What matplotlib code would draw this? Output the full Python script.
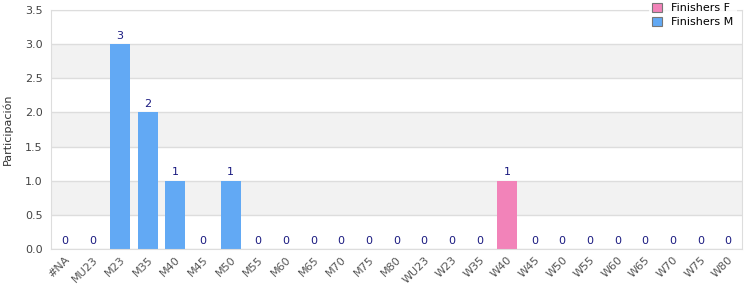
import matplotlib
matplotlib.use("Agg")
import matplotlib.pyplot as plt
import numpy as np

categories = ["#NA", "MU23", "M23", "M35", "M40", "M45", "M50", "M55", "M60", "M65",
              "M70", "M75", "M80", "WU23", "W23", "W35", "W40", "W45", "W50", "W55",
              "W60", "W65", "W70", "W75", "W80"]
finishers_m = [0, 0, 3, 2, 1, 0, 1, 0, 0, 0, 0, 0, 0, 0, 0, 0, 0, 0, 0, 0, 0, 0, 0, 0, 0]
finishers_f = [0, 0, 0, 0, 0, 0, 0, 0, 0, 0, 0, 0, 0, 0, 0, 0, 1, 0, 0, 0, 0, 0, 0, 0, 0]

col_m = "#62a9f4"
col_f = "#f283b9"
grid_col = "#dddddd"

fig = plt.figure(figsize=(7.5, 3), dpi=100)
ax = fig.add_axes([0.068, 0.17, 0.921, 0.797])

X = np.arange(len(categories))
m = np.array(finishers_m)
f = np.array(finishers_f)

ax.set_xlim(-0.5, len(categories) - 0.5)
ax.set_ylim(0, 3.5)

# bandas alternas
for lo in [0.5, 1.5, 2.5]:
    ax.axhspan(lo, lo + 0.5, color="#f2f2f2", zorder=0, lw=0)
ax.set_yticks(np.arange(0, 3.51, 0.5))
ax.yaxis.grid(True, color=grid_col, lw=1, zorder=0.5)
ax.set_axisbelow(True)

ax.bar(X, m, width=0.72, color=col_m, label="Finishers M", zorder=2)
ax.bar(X, f, width=0.72, bottom=m, color=col_f, label="Finishers F", zorder=2)

tot = m + f
for x, t in zip(X, tot):
    ax.text(x, t + 0.05, str(t), ha="center", va="bottom", fontsize=8, color="#1a1a80")

ax.set_xticks(X)
ax.set_xticklabels(categories, rotation=45, ha="right", rotation_mode="anchor",
                   fontsize=8, color="#555555")
ax.tick_params(axis="y", labelsize=8, labelcolor="#444444", length=0, pad=6)
ax.tick_params(axis="x", length=0, pad=4)
ax.yaxis.set_major_formatter(matplotlib.ticker.FormatStrFormatter("%.1f"))
for s in ax.spines.values():
    s.set_color(grid_col)
ax.set_ylabel("Participación", fontsize=8, color="#333333", labelpad=9)

handles, labels = ax.get_legend_handles_labels()
leg = fig.legend(handles[::-1], labels[::-1], loc="upper right",
                 bbox_to_anchor=(0.99, 1.02), fontsize=8, frameon=True,
                 handlelength=0.9, handleheight=0.9, handletextpad=0.8,
                 labelspacing=0.3, borderpad=0.3)
leg.get_frame().set_edgecolor("white")
leg.get_frame().set_linewidth(0)
for p in leg.get_patches():
    p.set_edgecolor("#777777")
    p.set_linewidth(0.8)

fig.savefig("out.png", dpi=100)
